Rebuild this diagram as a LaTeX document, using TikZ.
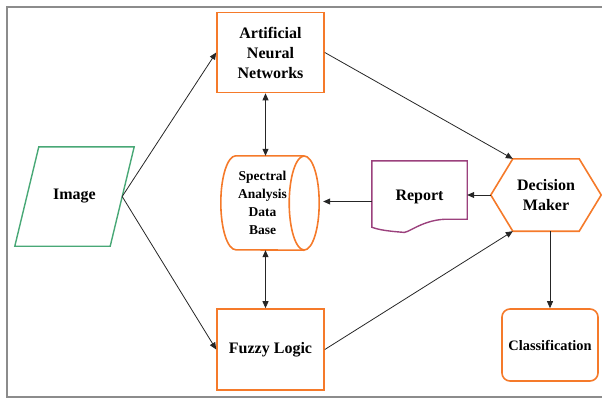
\documentclass[tikz,border=0pt]{standalone}
\usepackage{fontspec}
\setmainfont{Liberation Serif}
\usetikzlibrary{shapes.geometric,arrows.meta,calc}
\definecolor{orng}{RGB}{245,122,42}
\definecolor{grn}{RGB}{72,168,118}
\definecolor{purp}{RGB}{155,65,125}
\definecolor{framec}{RGB}{140,140,140}
\begin{document}
\begin{tikzpicture}[x=1pt,y=-1pt,
 lbl/.style={font=\bfseries\fontsize{16}{20}\selectfont,align=center,inner sep=0pt},
 box/.style={lbl,draw=orng,line width=1.6pt,minimum width=107pt,minimum height=80pt},
 tip/.tip={Triangle[length=7pt,width=6pt]},
 arr/.style={-tip,line width=0.8pt,draw=black!85},
 darr/.style={tip-tip,line width=0.8pt,draw=black!85},
 oline/.style={draw=orng,line width=1.6pt}
]
\useasboundingbox (0,0) rectangle (602,399);
\draw[framec,line width=1.2pt] (7,7) rectangle (610,397);

% nodes
\node[box] (ann) at (270.5,52.5) {Artificial\\Neural\\Networks};
\node[box,minimum height=81pt] (fuzzy) at (270.5,349.5) {Fuzzy Logic};
\node[lbl,oline,rounded corners=8pt,minimum width=96pt,minimum height=72pt,
      font=\bfseries\fontsize{14.4}{18}\selectfont] (class) at (550,345) {Classification};

% database cylinder
\node[lbl,minimum width=83pt,minimum height=94pt,font=\bfseries\fontsize{13.5}{18}\selectfont]
      (cyl) at (262.5,203) {Spectral\\Analysis\\Data\\Base};
\draw[oline] (cyl.north east) -- ([xshift=15pt]cyl.north west)
   arc[start angle=90,end angle=270,x radius=15pt,y radius=47pt] -- (cyl.south east);
\draw[oline] (cyl.east) ellipse[x radius=15pt,y radius=47pt];
\coordinate (cyle) at ([xshift=15pt]cyl.east);

% image parallelogram
\node[lbl,minimum width=119pt,minimum height=99pt] (img) at (74.5,196.5) {Image};
\draw[grn,line width=1.4pt] ([xshift=24pt]img.north west) -- (img.north east)
   -- ([xshift=-24pt]img.south east) -- (img.south west) -- cycle;
\coordinate (imgr) at ([xshift=-12pt]img.east);

% report document
\node[lbl,minimum width=95pt,minimum height=71pt] (rep) at (419.5,196.5) {Report};
\draw[purp,line width=1.4pt] (rep.north west) -- (rep.north east)
   -- ([shift={(0,-13)}]rep.south east) -- ([shift={(-17,-13)}]rep.south east)
   .. controls ([shift={(-45,-14)}]rep.south east) and ([shift={(-60,3)}]rep.south east)
   .. ([shift={(30,0)}]rep.south west)
   .. controls ([shift={(18,-1)}]rep.south west) and ([shift={(8,-2)}]rep.south west)
   .. ([shift={(0,-5)}]rep.south west) -- cycle;
\coordinate (repw) at ([yshift=-5pt]rep.west);

% decision hexagon
\node[lbl,minimum width=110pt,minimum height=72pt] (hex) at (546,195) {Decision\\Maker};
\coordinate (hexnw) at ([xshift=22pt]hex.north west);
\coordinate (hexsw) at ([xshift=22pt]hex.south west);
\draw[oline] (hex.west) -- (hexnw) -- ([xshift=-22pt]hex.north east)
   -- (hex.east) -- ([xshift=-22pt]hex.south east) -- (hexsw) -- cycle;

% connectors
\draw[arr] (imgr) -- (ann.west);
\draw[arr] (imgr) -- (fuzzy.west);
\draw[darr] ([xshift=-5pt]ann.south) -- ([xshift=-5pt]ann.south |- cyl.north);
\draw[darr] ([xshift=-5pt]fuzzy.north) -- ([xshift=-5pt]fuzzy.north |- cyl.south);
\draw[arr] (ann.east) -- (hexnw);
\draw[arr] (fuzzy.east) -- (hexsw);
\draw[arr] (hex.west) -- (rep.east |- hex.west);
\draw[arr] (repw) -- ([xshift=4pt]cyle |- repw);
\draw[arr] (hex.south -| class.north) -- (class.north);
\end{tikzpicture}
\end{document}
